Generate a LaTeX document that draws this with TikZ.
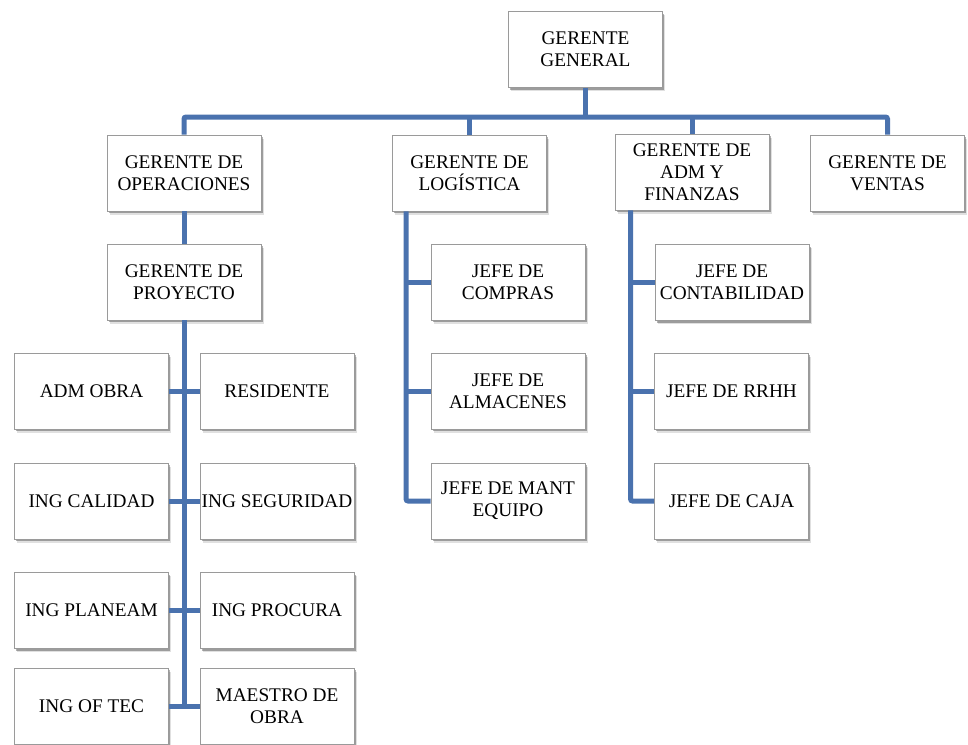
\documentclass[tikz,border=0pt]{standalone}
\usepackage{fontspec}
\setmainfont{Liberation Serif}
\usetikzlibrary{shadows}
\definecolor{linkblue}{HTML}{4A72AE}
\definecolor{boxline}{HTML}{9A9A9A}
\begin{document}
\begin{tikzpicture}[x=1pt,y=-1pt,
  box/.style={draw=boxline, line width=0.9pt, fill=white,
    minimum width=154pt, minimum height=76pt, inner sep=0pt,
    align=center, font=\fontsize{19.3}{22}\selectfont,
    drop shadow={shadow xshift=2.5pt, shadow yshift=-3.5pt, fill=black, opacity=0.12},
    drop shadow={shadow xshift=1.5pt, shadow yshift=-2pt, fill=black, opacity=0.3}},
  conn/.style={draw=linkblue, line width=5pt, rounded corners=2pt}]
\useasboundingbox (0,0) rectangle (968,744);
% nodes
\node[box] (gg) at (585.5,49.5) {GERENTE\\GENERAL};
\node[box] (op) at (184,173) {GERENTE DE\\OPERACIONES};
\node[box] (lo) at (469.5,173) {GERENTE DE\\LOGÍSTICA};
\node[box] (ad) at (692,172) {GERENTE DE\\ADM Y\\FINANZAS};
\node[box] (ve) at (887.5,173) {GERENTE DE\\VENTAS};
\node[box] (pr) at (184,282) {GERENTE DE\\PROYECTO};
\node[box] (co) at (508,282) {JEFE DE\\COMPRAS};
\node[box] (ct) at (732,282.5) {JEFE DE\\CONTABILIDAD};
\node[box] (al) at (508,391) {JEFE DE\\ALMACENES};
\node[box] (rh) at (731.5,391) {JEFE DE RRHH};
\node[box] (me) at (508,501) {JEFE DE MANT\\EQUIPO};
\node[box] (cj) at (731.5,501) {JEFE DE CAJA};
\node[box] (ao) at (91.5,391) {ADM OBRA};
\node[box] (re) at (277,391) {RESIDENTE};
\node[box] (ic) at (91.5,501) {ING CALIDAD};
\node[box] (is) at (277,501) {ING SEGURIDAD};
\node[box] (ip) at (91.5,610.5) {ING PLANEAM};
\node[box] (iq) at (277,610.5) {ING PROCURA};
\node[box] (ot) at (91.5,706) {ING OF TEC};
\node[box] (mo) at (277,706) {MAESTRO DE\\OBRA};
% junctions
\coordinate (bus) at (585.5,117);
\coordinate (lline) at ([xshift=14pt]lo.south west);
\coordinate (aline) at ([xshift=16pt]ad.south west);
% connectors
\draw[conn] (gg.south) -- (bus);
\draw[conn] (op.north) |- (bus) -| (ve.north);
\draw[conn] (lo.north) -- (lo.north |- bus);
\draw[conn] (ad.north) -- (ad.north |- bus);
\draw[conn] (op.south) -- (pr.north);
\draw[conn] (pr.south) -- (pr.south |- ot.east);
\draw[conn] (ao.east) -- (re.west);
\draw[conn] (ic.east) -- (is.west);
\draw[conn] (ip.east) -- (iq.west);
\draw[conn] (ot.east) -- (mo.west);
\draw[conn] (lline) |- (me.west);
\draw[conn] (lline |- co.west) -- (co.west);
\draw[conn] (lline |- al.west) -- (al.west);
\draw[conn] (aline) |- (cj.west);
\draw[conn] (aline |- ct.west) -- (ct.west);
\draw[conn] (aline |- rh.west) -- (rh.west);
\end{tikzpicture}
\end{document}
